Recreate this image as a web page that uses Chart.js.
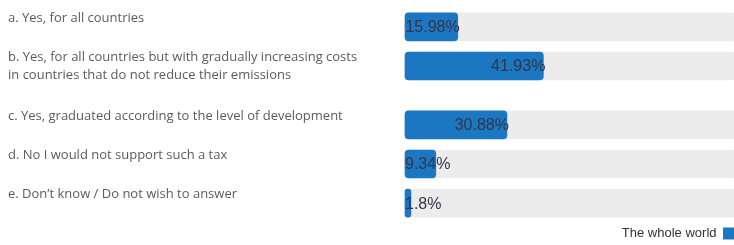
<!DOCTYPE html>
<html>
<head>
<meta charset="utf-8">
<script src="https://cdn.jsdelivr.net/npm/chart.js@4/dist/chart.umd.min.js"></script>
<style>
  html, body { margin: 0; padding: 0; background: #fff; overflow: hidden; }
  #wrap { width: 735px; height: 245px; position: relative; }
</style>
</head>
<body>
<div id="wrap"><canvas id="chart"></canvas></div>
<script>
// answers, one entry per line of text
const categories = [
    ['a. Yes, for all countries'],
    ['b. Yes, for all countries but with gradually increasing costs', 'in countries that do not reduce their emissions'],
    ['c. Yes, graduated according to the level of development'],
    ['d. No I would not support such a tax'],
    ['e. Don\u2019t know / Do not wish to answer']
];
const worldValues = [15.98, 41.93, 30.88, 9.34, 1.8];
const seriesName = 'The whole world';

// each answer takes one slot per text line plus a gap slot (none after the last)
let labels = [];
let values = [];
let track = [];
categories.forEach((lines, i) => {
    labels.push(lines.length > 1 ? lines : [lines[0], '']);
    values.push(worldValues[i]);
    track.push(100);
    const gaps = i < categories.length - 1 ? lines.length : 0;
    for (let g = 0; g < gaps; g++) {
        labels.push('');
        values.push(null);
        track.push(null);
    }
});

const blue = 'rgb(28, 119, 194)';

const valueLabels = {
    id: 'valueLabels',
    afterDatasetsDraw(chart) {
        const ctx = chart.ctx;
        const meta = chart.getDatasetMeta(0);
        ctx.save();
        ctx.font = '16px "Liberation Sans", Arial, sans-serif';
        ctx.fillStyle = '#33364a';
        ctx.textBaseline = 'middle';
        ctx.textAlign = 'left';
        meta.data.forEach((bar, i) => {
            const v = values[i];
            if (v === null) return;
            const txt = v + '%';
            const w = ctx.measureText(txt).width;
            const x = Math.max(bar.x + 2 - w, bar.base);
            ctx.fillText(txt, x, bar.y + 1);
        });
        ctx.restore();
    }
};

new Chart(document.getElementById('chart'), {
    type: 'bar',
    data: {
        labels: labels,
        datasets: [
            {
                label: seriesName,
                data: values,
                backgroundColor: blue,
                borderRadius: 4,
                borderSkipped: false,
                barThickness: 28,
                clip: false,
                order: 1
            },
            {
                label: 'track',
                data: track,
                backgroundColor: '#ececec',
                borderRadius: 3,
                borderSkipped: false,
                barThickness: 28,
                clip: false,
                order: 2
            }
        ]
    },
    options: {
        indexAxis: 'y',
        responsive: true,
        maintainAspectRatio: false,
        animation: false,
        datasets: { bar: { grouped: false } },
        layout: { padding: { top: 17, left: 8, right: 0, bottom: -5 } },
        scales: {
            x: {
                min: 0,
                max: 100,
                grid: { display: false },
                border: { display: false },
                ticks: { display: false },
                afterFit(scale) { scale.height = 14; }
            },
            y: {
                grid: { display: false },
                border: { display: false },
                ticks: {
                    crossAlign: 'far',
                    autoSkip: false,
                    color: '#5a5a66',
                    font: { family: '"Open Sans", sans-serif', size: 13, lineHeight: '18px' }
                },
                afterFit(scale) {
                    scale.width = 397;
                    scale.paddingTop = 0;
                    scale.paddingBottom = 0;
                }
            }
        },
        plugins: {
            tooltip: { enabled: false },
            legend: {
                position: 'bottom',
                align: 'start',
                rtl: true,
                labels: {
                    boxWidth: 12,
                    boxHeight: 12,
                    padding: 0,
                    color: '#333',
                    font: { family: '"Liberation Sans", Arial, sans-serif', size: 13 },
                    filter: item => item.datasetIndex === 0
                }
            }
        }
    },
    plugins: [valueLabels]
});
</script>
</body>
</html>
